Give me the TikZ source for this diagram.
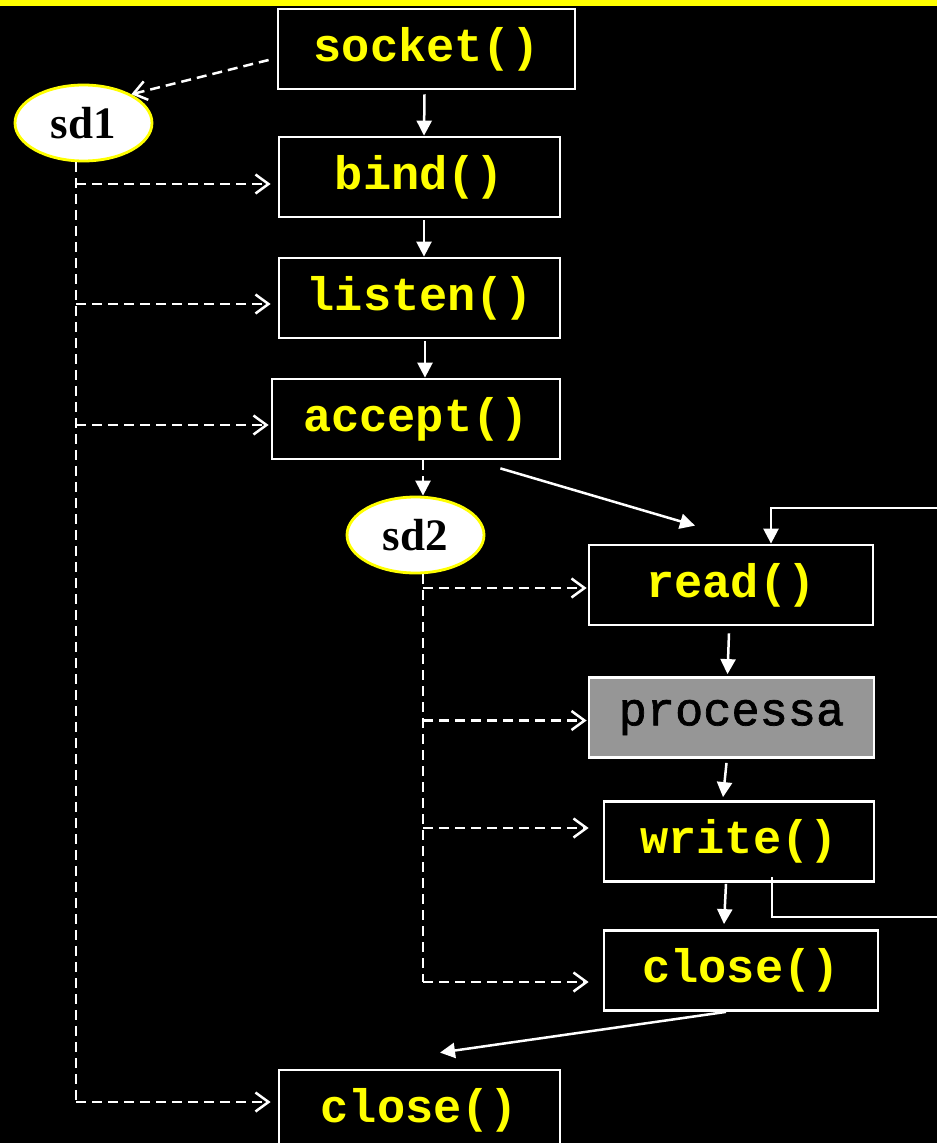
\documentclass[tikz,border=0pt]{standalone}
\usepackage{fontspec}
\usetikzlibrary{arrows.meta,shapes.geometric,calc}
\newfontfamily\codefont{Liberation Mono}
\newfontfamily\procfont[FakeBold=1.5]{Liberation Mono}
\newfontfamily\sdfont{Liberation Serif}
\definecolor{procgray}{RGB}{150,150,150}
\definecolor{pureyellow}{RGB}{255,255,0}
\tikzset{
  callbox/.style={draw=white, line width=2.8pt, minimum height=80pt, inner sep=0pt,
    text=pureyellow, font=\codefont\bfseries\fontsize{47}{47}\selectfont},
  sdnode/.style={ellipse, draw=pureyellow, fill=white, line width=2.8pt, inner sep=0pt,
    minimum width=137pt, minimum height=76pt, text=black,
    font=\sdfont\bfseries\fontsize{45}{45}\selectfont},
  flow/.style={draw=white, line width=2.5pt, -{Triangle[width=15pt,length=15pt]}},
  plainline/.style={draw=white, line width=2.5pt},
  dashline/.style={draw=white, line width=2.5pt, dash pattern=on 10pt off 6pt},
  dasharrow/.style={dashline, -{Straight Barb[width=19pt,length=13pt,line width=2.5pt]}},
  dashflow/.style={dashline, -{Triangle[width=15pt,length=15pt]}}
}
\begin{document}
\begin{tikzpicture}[x=1pt,y=-1pt]
  % canvas and top strip
  \fill[black] (0,0) rectangle (937,1143);
  \useasboundingbox (0,0) rectangle (937,1143);
  \clip (0,0) rectangle (937,1143);
  \fill[pureyellow] (0,0) rectangle (937,6);

  % server calls
  \node[callbox, minimum width=297pt] (socket) at (426.5,49) {socket()};
  \node[callbox, minimum width=281pt] (bind)   at (419.5,177) {bind()};
  \node[callbox, minimum width=281pt] (listen) at (419.5,298) {listen()};
  \node[callbox, minimum width=288pt] (accept) at (416,419) {accept()};
  \node[callbox, minimum width=284pt] (read)   at (731,585) {read()};
  \node[callbox, minimum width=285pt, fill=procgray, text=black,
        font=\procfont\fontsize{47}{47}\selectfont] (processa) at (731.5,717.5) {processa};
  \node[callbox, minimum width=270pt] (write)  at (739,841.5) {write()};
  \node[callbox, minimum width=274pt] (closeA) at (741,970.5) {close()};
  \node[callbox, minimum width=281pt] (closeB) at (419.5,1110) {close()};

  % descriptors
  \node[sdnode] (sd1) at (83.5,123) {sd1};
  \node[sdnode] (sd2) at (415.5,535) {sd2};

  % main sequence
  \draw[flow] ([xshift=-2pt,yshift=-4pt]socket.south) -- ([xshift=4.5pt]bind.north);
  \draw[flow] ([xshift=4.5pt,yshift=-2pt]bind.south) -- ([xshift=4.5pt]listen.north);
  \draw[flow] ([xshift=5.5pt,yshift=-2pt]listen.south) -- ([xshift=9pt]accept.north);
  \draw[dashflow] ([xshift=7pt]accept.south) -- ([xshift=7.5pt]sd2.north);
  \draw[flow] ([xshift=-61pt,yshift=-8pt]accept.south east) -- ([xshift=-36pt,yshift=18pt]read.north);
  \draw[flow] ([xshift=-2pt,yshift=-7pt]read.south) -- ([xshift=-4pt,yshift=2pt]processa.north);
  \draw[flow] ([xshift=-5pt,yshift=-4pt]processa.south) -- ([xshift=-16pt,yshift=3pt]write.north);
  \draw[flow] ([xshift=-13pt,yshift=-1pt]write.south) -- ([xshift=-17pt,yshift=5pt]closeA.north);
  \draw[flow] ([xshift=-15pt]closeA.south) -- ([xshift=20.5pt,yshift=16pt]closeB.north);

  % read/write loop
  \coordinate (loopTop) at (940,508);
  \coordinate (loopBot) at (940,917);
  \draw[plainline] ([xshift=33pt,yshift=6pt]write.south) |- (loopBot);
  \draw[flow] (loopTop) -| ([xshift=40pt]read.north);

  % sd1 references
  \draw[dasharrow] ([xshift=-8pt,yshift=-11pt]socket.west) -- (sd1.31);
  \coordinate (sdA) at ([xshift=-7.5pt]sd1.south);
  \coordinate (inBind)   at ([xshift=-7pt,yshift=-7pt]bind.west);
  \coordinate (inListen) at ([xshift=-7pt,yshift=-6pt]listen.west);
  \coordinate (inAccept) at ([xshift=-2pt,yshift=-6pt]accept.west);
  \coordinate (inCloseB) at ([xshift=-7pt,yshift=8pt]closeB.west);
  \draw[dashline] (sdA) -- (sdA |- inCloseB);
  \draw[dasharrow] (sdA |- inBind) -- (inBind);
  \draw[dasharrow] (sdA |- inListen) -- (inListen);
  \draw[dasharrow] (sdA |- inAccept) -- (inAccept);
  \draw[dasharrow] (sdA |- inCloseB) -- (inCloseB);

  % sd2 references
  \coordinate (sdB) at ([xshift=7.5pt]sd2.south);
  \coordinate (inRead)  at ([xshift=-1pt,yshift=-3pt]read.west);
  \coordinate (inProc)  at ([xshift=-1pt,yshift=-3pt]processa.west);
  \coordinate (inWrite) at ([xshift=-14pt,yshift=13.5pt]write.west);
  \coordinate (inCloseA) at ([xshift=-14pt,yshift=-11.5pt]closeA.west);
  \draw[dashline] (sdB) -- (sdB |- inCloseA);
  \draw[dasharrow] (sdB |- inRead) -- (inRead);
  \draw[dasharrow] (sdB |- inProc) -- (inProc);
  \draw[dasharrow] (sdB |- inWrite) -- (inWrite);
  \draw[dasharrow] (sdB |- inCloseA) -- (inCloseA);
\end{tikzpicture}
\end{document}
